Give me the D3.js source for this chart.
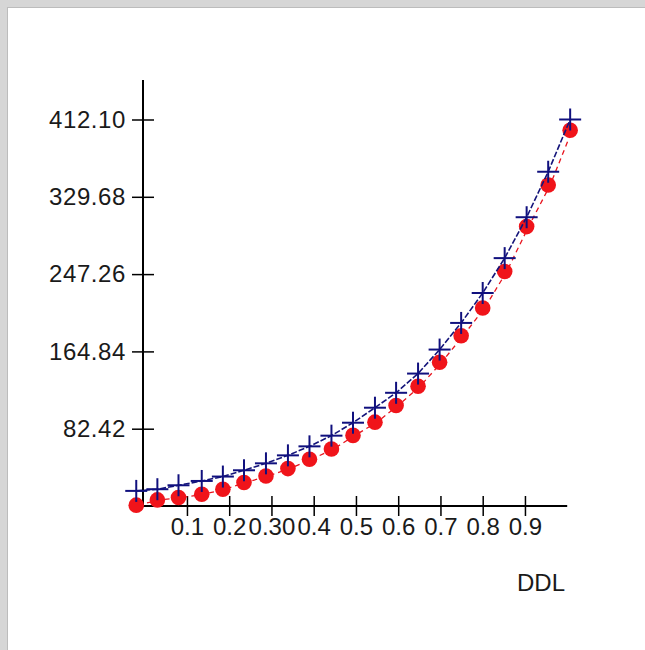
<!DOCTYPE html>
<html>
<head>
<meta charset="utf-8">
<script src="https://cdn.jsdelivr.net/npm/d3@7"></script>
<style>
  body { margin: 0; background: #d6d6d6; }
  text { font-family: "Liberation Sans", Arial, sans-serif; fill: #1a1a1a; }
</style>
</head>
<body>
<svg width="645" height="650"></svg>
<script>
const svg = d3.select("svg");
const width = +svg.attr('width');
const height = +svg.attr('height');

// values
const xs = [-0.02, 0.03, 0.08, 0.135, 0.185, 0.235, 0.287, 0.339, 0.39, 0.442, 0.493, 0.545, 0.595, 0.647, 0.698, 0.749, 0.80, 0.852, 0.904, 0.955, 1.007];
const crossSeries = [16.1, 17.9, 22.1, 26.7, 31.4, 38.1, 45.5, 54.0, 63.6, 75.0, 88.8, 104.8, 120.7, 141.2, 166.8, 195.2, 227.1, 264.3, 307.9, 356.4, 412.1];
const dotSeries = [0.9, 6.5, 9.0, 12.5, 17.9, 25.0, 32.0, 39.9, 49.8, 60.7, 75.3, 89.4, 107.2, 127.7, 153.2, 181.6, 211.1, 250.0, 297.9, 342.2, 400.7];
const yTicks = [82.42, 164.84, 247.26, 329.68, 412.10];
const xTicks = [0.1, 0.2, 0.3, 0.4, 0.5, 0.6, 0.7, 0.8, 0.9];
const xTickLabels = ["0.1", "0.2", "0.30", "0.4", "0.5", "0.6", "0.7", "0.8", "0.9"];
const xTitle = "DDL";

// panel
svg.append('rect')
  .attr('x', 7.5).attr('y', 7.5)
  .attr('width', width).attr('height', height)
  .attr('fill', '#fff')
  .attr('stroke', '#bcbcbc');

const xScale = d3.scaleLinear().domain([0, 1]).range([144.7, 567.2]);
const yScale = d3.scaleLinear().domain([0, 412.1]).range([506, 119.5]);
const y0 = yScale(0);

// y axis
const yAxis = d3.axisLeft(yScale)
  .tickValues(yTicks)
  .tickFormat(d3.format('.2f'))
  .tickSize(0)
  .tickPadding(17);
const gy = svg.append('g')
  .attr('transform', `translate(143,0)`)
  .call(yAxis);
gy.select('.domain').remove();
gy.selectAll('.tick line')
  .attr('x1', -11).attr('x2', 11)
  .attr('stroke', '#000').attr('stroke-width', 1.5);
gy.selectAll('.tick text')
  .attr('font-size', 24)
  .attr('letter-spacing', 0.6)
  .attr('font-family', '"Liberation Sans", Arial, sans-serif')
  .attr('fill', '#1a1a1a');
svg.append('line')
  .attr('x1', 143).attr('x2', 143)
  .attr('y1', 80).attr('y2', y0)
  .attr('stroke', '#000').attr('stroke-width', 2);

// x axis
const xAxis = d3.axisBottom(xScale)
  .tickValues(xTicks)
  .tickFormat((d, i) => xTickLabels[i])
  .tickSize(0)
  .tickPadding(12);
const gx = svg.append('g')
  .attr('transform', `translate(0,${y0})`)
  .call(xAxis);
gx.select('.domain').remove();
gx.selectAll('.tick line')
  .attr('y1', -10).attr('y2', 10)
  .attr('stroke', '#000').attr('stroke-width', 1.5);
gx.selectAll('.tick text')
  .attr('font-size', 24)
  .attr('font-family', '"Liberation Sans", Arial, sans-serif')
  .attr('fill', '#1a1a1a');
svg.append('line')
  .attr('x1', 143).attr('x2', xScale(1))
  .attr('y1', y0).attr('y2', y0)
  .attr('stroke', '#000').attr('stroke-width', 2);

svg.append('text')
  .attr('x', 565).attr('y', 591)
  .attr('text-anchor', 'end')
  .attr('font-size', 24)
  .text(xTitle);

const crossData = xs.map((x, i) => ({x: x, y: crossSeries[i]}));
const dotData = xs.map((x, i) => ({x: x, y: dotSeries[i]}));

const line = d3.line()
  .x(d => xScale(d.x))
  .y(d => yScale(d.y));

// red series
svg.append('path')
  .attr('d', line(dotData))
  .attr('fill', 'none')
  .attr('stroke', '#e8141e')
  .attr('stroke-width', 1.3)
  .attr('stroke-dasharray', '5,4')
  .attr('transform', 'translate(2,0)');
svg.selectAll('circle.dot')
  .data(dotData)
  .enter().append('circle')
  .attr('class', 'dot')
  .attr('cx', d => xScale(d.x))
  .attr('cy', d => yScale(d.y))
  .attr('r', 7.8)
  .attr('fill', '#f0141a');

// blue series
svg.append('path')
  .attr('d', line(crossData))
  .attr('fill', 'none')
  .attr('stroke', '#14147a')
  .attr('stroke-width', 1.6)
  .attr('stroke-dasharray', '6,2');
const arm = 11;
const crosses = svg.selectAll('g.cross')
  .data(crossData)
  .enter().append('g')
  .attr('class', 'cross')
  .attr('transform', d => `translate(${xScale(d.x)},${yScale(d.y)})`);
crosses.append('line')
  .attr('x1', -arm).attr('x2', arm)
  .attr('stroke', '#10107e').attr('stroke-width', 2);
crosses.append('line')
  .attr('y1', -arm).attr('y2', arm)
  .attr('stroke', '#10107e').attr('stroke-width', 2);
</script>
</body>
</html>
